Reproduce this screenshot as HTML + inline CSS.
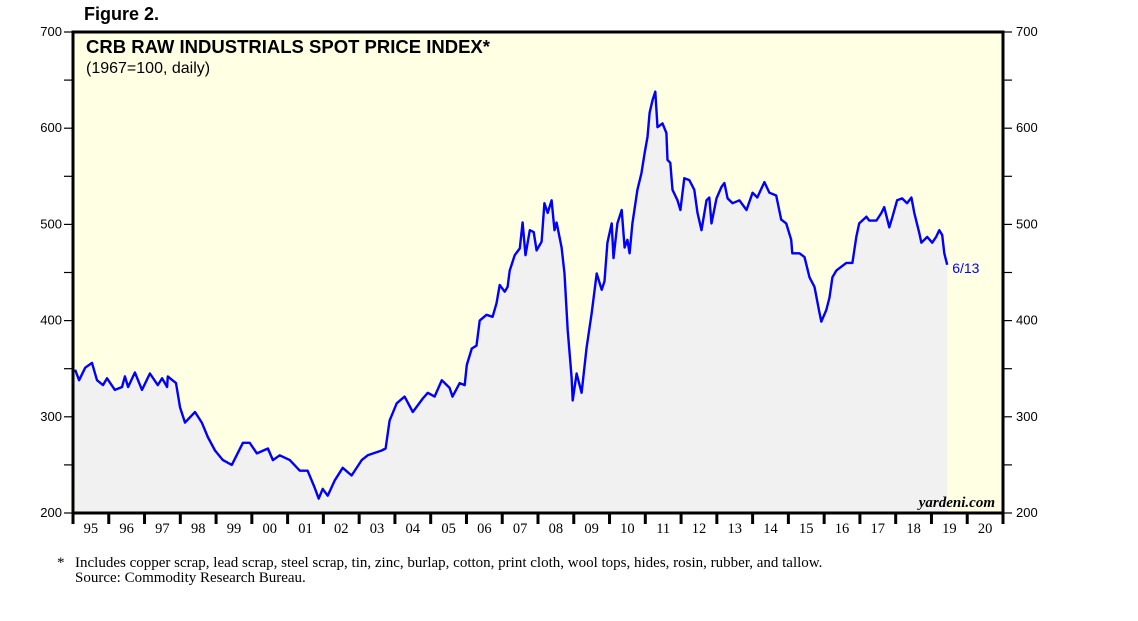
<!DOCTYPE html>
<html><head><meta charset="utf-8"><style>
body{margin:0;background:#fff;}
svg{display:block;font-family:"Liberation Sans",sans-serif;}
</style></head><body>
<svg id="chart" width="1138" height="621" viewBox="0 0 1138 621">
<text x="84" y="20" font-size="18" font-weight="bold">Figure 2.</text>
<rect x="73" y="32" width="930" height="481" fill="#ffffe4"/>
<g id="series"></g>
<text x="86" y="53" font-size="18.5" font-weight="bold">CRB RAW INDUSTRIALS SPOT PRICE INDEX*</text>
<text x="86" y="73" font-size="16">(1967=100, daily)</text>
<g id="axes"></g>
<rect x="73" y="32" width="930" height="481" fill="none" stroke="#000" stroke-width="3"/>
<text x="995" y="507" font-size="15" font-style="italic" font-weight="bold" text-anchor="end" font-family="Liberation Serif, serif">yardeni.com</text>
<text id="lastlabel" x="952" y="271" font-size="14" fill="#0000ff">6/13</text>
<text x="57" y="567" font-size="15" font-family="Liberation Serif, serif">*</text>
<text x="75" y="567" font-size="15" font-family="Liberation Serif, serif">Includes copper scrap, lead scrap, steel scrap, tin, zinc, burlap, cotton, print cloth, wool tops, hides, rosin, rubber, and tallow.</text>
<text x="75" y="582" font-size="15" font-family="Liberation Serif, serif">Source: Commodity Research Bureau.</text>
</svg>
<script>
const dates=[1995.06,1995.17,1995.34,1995.53,1995.67,1995.84,1995.95,1996.17,1996.37,1996.45,1996.54,1996.73,1996.93,1997.15,1997.37,1997.49,1997.63,1997.65,1997.88,1997.99,1998.13,1998.41,1998.60,1998.77,1998.97,1999.19,1999.44,1999.75,1999.94,2000.14,2000.45,2000.59,2000.78,2001.06,2001.34,2001.56,2001.75,2001.87,2001.98,2002.12,2002.32,2002.54,2002.79,2003.07,2003.24,2003.63,2003.74,2003.85,2004.05,2004.27,2004.50,2004.78,2004.92,2005.11,2005.31,2005.53,2005.61,2005.81,2005.95,2006.01,2006.15,2006.28,2006.37,2006.56,2006.73,2006.84,2006.93,2007.07,2007.15,2007.21,2007.35,2007.49,2007.57,2007.65,2007.77,2007.88,2007.96,2008.10,2008.18,2008.27,2008.38,2008.46,2008.52,2008.66,2008.74,2008.83,2008.94,2008.97,2009.08,2009.22,2009.36,2009.50,2009.64,2009.78,2009.86,2009.94,2010.06,2010.11,2010.22,2010.34,2010.42,2010.50,2010.56,2010.64,2010.78,2010.89,2010.98,2011.06,2011.12,2011.20,2011.28,2011.34,2011.48,2011.59,2011.62,2011.70,2011.76,2011.90,2011.98,2012.09,2012.23,2012.37,2012.46,2012.57,2012.71,2012.79,2012.85,2012.99,2013.13,2013.21,2013.30,2013.44,2013.63,2013.83,2014.00,2014.13,2014.33,2014.47,2014.66,2014.80,2014.94,2015.08,2015.11,2015.31,2015.45,2015.59,2015.73,2015.87,2015.92,2016.06,2016.15,2016.23,2016.34,2016.48,2016.62,2016.79,2016.90,2016.98,2017.18,2017.26,2017.46,2017.60,2017.68,2017.82,2017.91,2018.04,2018.18,2018.32,2018.44,2018.52,2018.66,2018.72,2018.88,2019.02,2019.13,2019.22,2019.30,2019.36,2019.44];
const values=[349,338,351,356,338,333,340,328,331,342,331,346,328,345,333,340,331,342,335,310,294,305,294,279,265,255,250,273,273,262,267,255,260,255,244,244,227,215,225,218,234,247,239,255,260,265,267,296,314,321,305,319,325,321,338,330,321,335,333,354,371,374,400,406,404,418,437,430,435,452,468,475,502,468,494,492,473,482,522,512,525,494,502,476,449,390,341,317,345,325,372,408,449,432,441,481,501,465,501,515,476,484,470,501,536,553,574,591,616,629,638,601,605,595,567,564,536,525,515,548,546,536,512,494,525,528,501,527,539,543,527,522,525,515,533,528,544,533,530,505,501,484,470,470,466,445,435,408,399,411,424,445,452,456,460,460,487,501,508,504,504,512,518,497,508,525,527,522,528,512,491,481,487,481,487,494,489,470,458];
const yTicks=[200,300,400,500,600,700];
const yearLabels=["95","96","97","98","99","00","01","02","03","04","05","06","07","08","09","10","11","12","13","14","15","16","17","18","19","20"];
const NS="http://www.w3.org/2000/svg";
const X0=73,X1=1003,Y0=513,Y1=32,YR0=1995,YR1=2021,V0=200,V1=700;
function xs(t){return X0+(t-YR0)/(YR1-YR0)*(X1-X0);}
function ys(v){return Y0-(v-V0)/(V1-V0)*(Y0-Y1);}
function mk(tag,attrs,parent){const e=document.createElementNS(NS,tag);for(const k in attrs)e.setAttribute(k,attrs[k]);parent.appendChild(e);return e;}
const series=document.getElementById('series');
let d='';
for(let i=0;i<dates.length;i++){d+=(i?'L':'M')+xs(dates[i]).toFixed(1)+','+ys(values[i]).toFixed(1);}
const area=mk('path',{d:d+'L'+xs(dates[dates.length-1]).toFixed(1)+','+Y0+'L'+xs(dates[0]).toFixed(1)+','+Y0+'L'+X0+','+ys(values[0]).toFixed(1)+'Z',fill:'#f1f1f1'},series);


const line=mk('path',{d:d,fill:'none',stroke:'#0000ff','stroke-width':2.4,'stroke-linejoin':'round'},series);


const lab=document.getElementById('lastlabel');
lab.setAttribute('x',(xs(dates[dates.length-1])+5).toFixed(1));
lab.setAttribute('y',(ys(values[values.length-1])+8).toFixed(1));
const axes=document.getElementById('axes');
for(let v=V0;v<=V1;v+=50){
  const y=ys(v);
  const tl=mk('line',{x1:64,x2:73,y1:y,y2:y,stroke:'#000','stroke-width':1.2},axes);
  
  
  const tr=mk('line',{x1:1003,x2:1012,y1:y,y2:y,stroke:'#000','stroke-width':1.2},axes);
  
  
}
yTicks.forEach(v=>{
  const y=ys(v);
  const a=mk('text',{x:62,y:y+4,'font-size':13,'text-anchor':'end'},axes);a.textContent=v;
  
  
  const b=mk('text',{x:1016,y:y+4,'font-size':13},axes);b.textContent=v;
  
  
});
for(let k=0;k<=yearLabels.length;k++){
  const x=xs(YR0+k);
  const t=mk('line',{x1:x,x2:x,y1:Y0,y2:Y0+11,stroke:'#000','stroke-width':3},axes);
  
  
}
yearLabels.forEach((l,k)=>{
  const t=mk('text',{x:xs(YR0+k+0.5),y:533,'font-size':14.5,'text-anchor':'middle','font-family':'Liberation Serif, serif'},axes);
  t.textContent=l;
  
  
});
</script>
</body></html>
